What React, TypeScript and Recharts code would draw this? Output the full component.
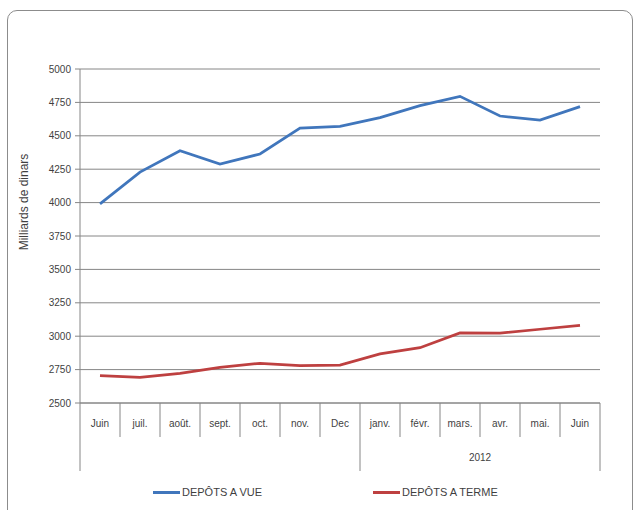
import { LineChart, Line, XAxis, YAxis, CartesianGrid, Legend } from "recharts";

const months = ["Juin", "juil.", "août.", "sept.", "oct.", "nov.", "Dec", "janv.", "févr.", "mars.", "avr.", "mai.", "Juin"];
const yearGroups = [
  { label: "", start: 0, end: 6 },
  { label: "2012", start: 7, end: 12 },
];
const depotsVue = [3990, 4228, 4388, 4288, 4364, 4558, 4570, 4636, 4726, 4795, 4648, 4617, 4718];
const depotsTerme = [2704, 2692, 2722, 2767, 2797, 2779, 2784, 2867, 2914, 3024, 3023, 3052, 3081];
const yTicks = [2500, 2750, 3000, 3250, 3500, 3750, 4000, 4250, 4500, 4750, 5000];

const data = months.map((m, i) => ({ month: m, vue: depotsVue[i], terme: depotsTerme[i] }));

const FONT = "'Liberation Sans', Arial, sans-serif";
const TEXT = "#3f3f3f";
const AXIS = "#868686";
const BLUE = "#4076bc";
const RED = "#be4040";

const PLOT_TOP = 69;
const PLOT_BOTTOM = 403;
const STEP = 40;
const ROW1 = 34;
const ROW2 = 68;

function MonthTick(props: any) {
  const { x, payload } = props;
  const i = payload.index;
  const left = x - STEP / 2;
  const right = x + STEP / 2;
  const startsGroup = yearGroups.some((g) => g.start === i);
  const endsGroup = yearGroups.find((g) => g.end === i);
  return (
    <g>
      <text x={x} y={PLOT_BOTTOM + 24} textAnchor="middle" fontSize={10} fontFamily={FONT} fill={TEXT}>
        {payload.value}
      </text>
      <line x1={left} x2={left} y1={PLOT_BOTTOM} y2={PLOT_BOTTOM + (startsGroup ? ROW2 : ROW1)} stroke={AXIS} />
      {i === months.length - 1 && (
        <line x1={right} x2={right} y1={PLOT_BOTTOM} y2={PLOT_BOTTOM + ROW2} stroke={AXIS} />
      )}
      {endsGroup && endsGroup.label && (
        <text
          x={x + STEP / 2 - ((endsGroup.end - endsGroup.start + 1) * STEP) / 2}
          y={PLOT_BOTTOM + 58}
          textAnchor="middle"
          fontSize={10}
          fontFamily={FONT}
          fill={TEXT}
        >
          {endsGroup.label}
        </text>
      )}
    </g>
  );
}

function LegendContent() {
  const items = [
    { name: "DEPÔTS A VUE", color: BLUE, x: 153 },
    { name: "DEPÔTS A TERME", color: RED, x: 373 },
  ];
  return (
    <div style={{ position: "relative", height: 20 }}>
      {items.map((it) => (
        <div
          key={it.name}
          style={{ position: "absolute", left: it.x, top: 0, display: "flex", alignItems: "center", height: 20 }}
        >
          <span style={{ display: "inline-block", width: 27, height: 3, background: it.color, marginRight: 2 }} />
          <span style={{ fontFamily: FONT, fontSize: 11, color: TEXT }}>{it.name}</span>
        </div>
      ))}
    </div>
  );
}

export default function App() {
  return (
    <div style={{ position: "absolute", left: 0, top: 0, width: 636, height: 510, background: "#fff" }}>
      <div
        style={{
          position: "absolute",
          left: 7,
          top: 10,
          width: 626,
          height: 510,
          border: "1px solid #8c8c8c",
          borderRadius: 10,
          boxSizing: "border-box",
        }}
      />
      <div
        style={{
          position: "absolute",
          left: 24,
          top: 202,
          transform: "translate(-50%, -50%) rotate(-90deg)",
          transformOrigin: "center",
          fontFamily: FONT,
          fontSize: 12,
          color: TEXT,
          whiteSpace: "nowrap",
        }}
      >
        Milliards de dinars
      </div>
      <div style={{ position: "absolute", left: 0, top: 0 }}>
        <LineChart width={636} height={510} data={data} margin={{ top: PLOT_TOP, right: 36, left: 0, bottom: 510 - PLOT_BOTTOM - ROW2 }}>
          <CartesianGrid vertical={false} stroke={AXIS} strokeWidth={1} />
          <XAxis
            dataKey="month"
            padding={{ left: STEP / 2, right: STEP / 2 }}
            height={ROW2}
            tickLine={false}
            axisLine={{ stroke: AXIS }}
            tick={<MonthTick />}
            interval={0}
          />
          <YAxis
            width={80}
            domain={[2500, 5000]}
            ticks={yTicks}
            interval={0}
            tickSize={5}
            tickMargin={4}
            tickLine={{ stroke: AXIS }}
            axisLine={{ stroke: AXIS }}
            tick={{ fontSize: 10, fontFamily: FONT, fill: TEXT }}
          />
          <Line dataKey="vue" name="DEPÔTS A VUE" stroke={BLUE} strokeWidth={2.75} dot={false} isAnimationActive={false} />
          <Line dataKey="terme" name="DEPÔTS A TERME" stroke={RED} strokeWidth={2.75} dot={false} isAnimationActive={false} />
          <Legend
            verticalAlign="middle"
            align="center"
            layout="horizontal"
            wrapperStyle={{ top: 482, left: 0, width: 636 }}
            content={<LegendContent />}
          />
        </LineChart>
      </div>
    </div>
  );
}
